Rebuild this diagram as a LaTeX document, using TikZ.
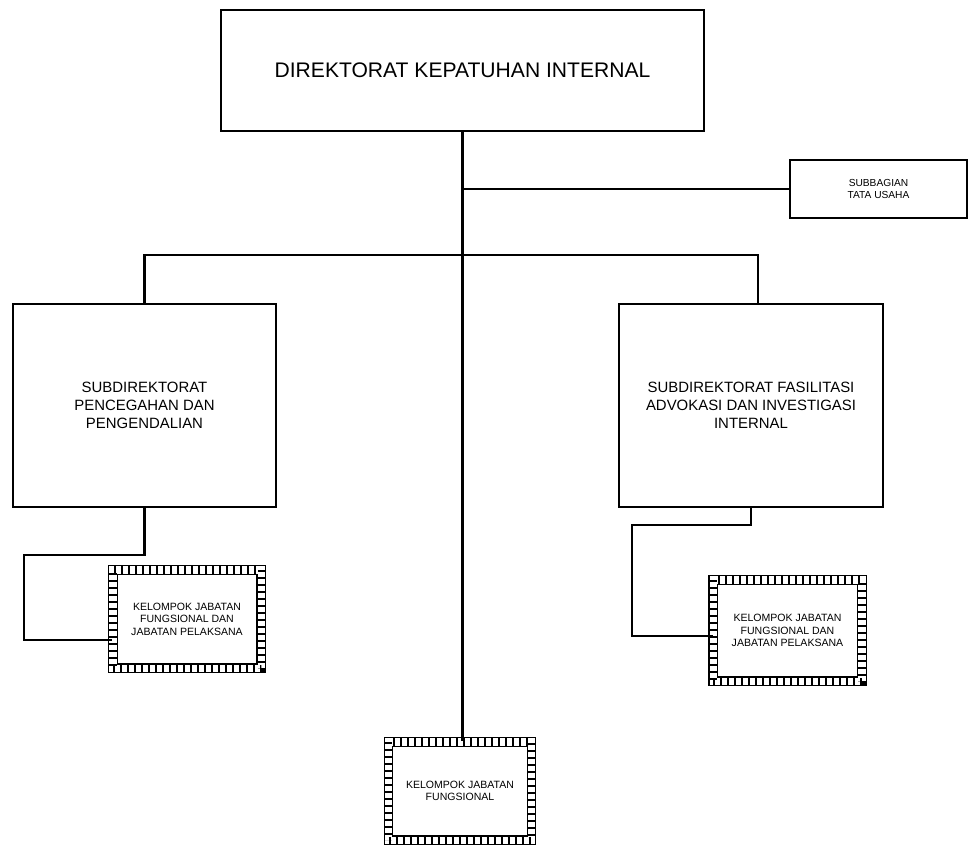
\documentclass[tikz,border=0pt]{standalone}
\usepackage{fontspec}
\setmainfont{Liberation Sans}
\usetikzlibrary{calc}
\tikzset{
	kotak/.style={draw, line width=1.2pt, align=center, inner sep=0pt},
	kotakjab/.style={draw, line width=0.7pt, double, double distance=0.15cm, align=center, inner sep=0pt,
		postaction={draw, line width=0.15cm, dash pattern=on 0.04cm off 0.10cm}},
	garis/.style={line width=1.2pt}
}

\begin{document}
\begin{tikzpicture}
				\useasboundingbox (0, 0) rectangle (19.36, -16.92);
				
				\node[kotak, minimum width=9.66cm, minimum height=2.42cm, font=\fontsize{12}{14}\selectfont] (dir) at (9.25, -1.41) {DIREKTORAT KEPATUHAN INTERNAL};
				\node[kotak, minimum width=3.54cm, minimum height=1.16cm, font=\fontsize{5.8}{6.8}\selectfont] (tu) at (17.57, -3.78) {SUBBAGIAN\\TATA USAHA};
				
				\node[kotak, minimum width=5.26cm, minimum height=4.06cm, font=\fontsize{8.5}{10.2}\selectfont] (subpp) at (2.89, -8.11) {SUBDIREKTORAT\\PENCEGAHAN DAN\\PENGENDALIAN};
				\node[kotak, minimum width=5.28cm, minimum height=4.06cm, font=\fontsize{8.5}{10.2}\selectfont] (subfai) at (15.02, -8.11) {SUBDIREKTORAT FASILITASI\\ADVOKASI DAN INVESTIGASI\\INTERNAL};
				
				\node[kotakjab, minimum width=2.97cm, minimum height=1.97cm, font=\fontsize{6}{7.1}\selectfont] (kjfpp) at (3.74, -12.38) {KELOMPOK JABATAN\\FUNGSIONAL DAN\\JABATAN PELAKSANA};
				\node[kotakjab, minimum width=2.97cm, minimum height=2.03cm, font=\fontsize{6}{7.1}\selectfont] (kjffai) at (15.75, -12.61) {KELOMPOK JABATAN\\FUNGSIONAL DAN\\JABATAN PELAKSANA};
				\node[kotakjab, minimum width=2.86cm, minimum height=1.97cm, font=\fontsize{6}{7.1}\selectfont] (kjf) at (9.2, -15.82) {KELOMPOK JABATAN\\FUNGSIONAL};
				
				\coordinate (bar) at (9.25, -5.1);
				\coordinate (belokpp) at (0.48, -11.1);
				\coordinate (belokfai) at (12.64, -10.5);
				
				\draw[garis] (dir.south) -- (dir.south |- kjf.north);
				\draw[garis] (dir.south |- tu.west) -- (tu.west);
				\draw[garis] (subpp.north) |- (bar) -| ([xshift=0.14cm]subfai.north);
				
				\draw[garis] (subpp.south) |- (belokpp) |- ([yshift=-0.42cm]kjfpp.west);
				\draw[garis] (subfai.south) |- (belokfai) |- ([yshift=-0.11cm]kjffai.west);
			\end{tikzpicture}
\end{document}
